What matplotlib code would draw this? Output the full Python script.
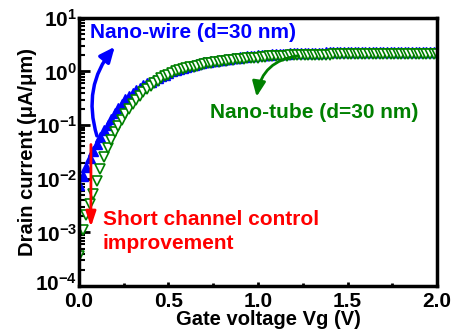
import numpy as np
import matplotlib
matplotlib.use("Agg")
import matplotlib.pyplot as plt
import matplotlib.transforms as mtransforms
from matplotlib.ticker import LogLocator, MultipleLocator, NullFormatter

plt.rcParams['font.family'] = ['Liberation Sans', 'DejaVu Sans']
plt.rcParams['font.weight'] = 'bold'
plt.rcParams['mathtext.fontset'] = 'custom'
plt.rcParams['mathtext.rm'] = 'Liberation Sans:bold'
plt.rcParams['mathtext.bf'] = 'Liberation Sans:bold'
plt.rcParams['mathtext.it'] = 'Liberation Sans:bold'

# gate voltage, 0 -> 2 V, step 0.02 V
vg = np.round(np.arange(0, 101) * 0.02, 2)

# log10 of drain current (uA/um)
wire_log = [
    -2.12, -1.95, -1.78, -1.62, -1.48, -1.35, -1.22, -1.10, -0.99, -0.88,
    -0.78, -0.68, -0.60, -0.52, -0.46, -0.40, -0.35, -0.30, -0.26, -0.22,
    -0.19, -0.16, -0.13, -0.09, -0.06, -0.03, 0.00, 0.03, 0.05, 0.07,
    0.09, 0.11, 0.13, 0.14, 0.16, 0.17, 0.18, 0.19, 0.20, 0.21,
    0.22, 0.23, 0.24, 0.25, 0.26, 0.27, 0.27, 0.28, 0.29, 0.29,
    0.30, 0.30, 0.31, 0.31, 0.32, 0.32, 0.33, 0.33, 0.33, 0.34,
    0.34, 0.34, 0.34, 0.35, 0.35, 0.35, 0.35, 0.35, 0.35, 0.36,
    0.36, 0.36, 0.36, 0.36, 0.36, 0.36, 0.36, 0.36, 0.36, 0.36,
    0.36, 0.36, 0.36, 0.36, 0.36, 0.37, 0.37, 0.37, 0.37, 0.37,
    0.37, 0.37, 0.37, 0.37, 0.37, 0.37, 0.37, 0.37, 0.37, 0.37,
    0.37,
]
tube_log = [
    -3.45, -2.95, -2.68, -2.47, -2.28, -2.05, -1.82, -1.60, -1.42, -1.27,
    -1.13, -1.01, -0.90, -0.80, -0.70, -0.61, -0.53, -0.45, -0.39, -0.33,
    -0.27, -0.22, -0.17, -0.13, -0.09, -0.06, -0.03, 0.00, 0.02, 0.04,
    0.06, 0.08, 0.09, 0.11, 0.12, 0.14, 0.15, 0.16, 0.17, 0.18,
    0.19, 0.20, 0.21, 0.22, 0.23, 0.23, 0.24, 0.25, 0.25, 0.26,
    0.26, 0.27, 0.27, 0.28, 0.28, 0.28, 0.29, 0.29, 0.29, 0.30,
    0.30, 0.30, 0.30, 0.30, 0.31, 0.31, 0.31, 0.31, 0.31, 0.31,
    0.31, 0.32, 0.32, 0.32, 0.32, 0.32, 0.32, 0.32, 0.32, 0.32,
    0.32, 0.32, 0.32, 0.32, 0.32, 0.33, 0.33, 0.33, 0.33, 0.33,
    0.33, 0.33, 0.33, 0.33, 0.33, 0.33, 0.33, 0.33, 0.33, 0.33,
    0.33,
]

wire_i = 10.0 ** np.array(wire_log)
tube_i = 10.0 ** np.array(tube_log)

blue = '#0000ff'
green = '#008000'
red = '#ff0000'

fig = plt.figure(figsize=(4.67, 3.31), dpi=100)
ax = fig.add_axes([0.169, 0.136, 0.767, 0.810])

ax.semilogy(vg, wire_i, '^', color=blue, ms=7.5, mec=blue, mew=1.0, ls='none')
ax.semilogy(vg, tube_i, 'v', color=green, ms=7.5, mfc='white', mec=green, mew=1.2, ls='none')

ax.set_xlim(0, 2.0)
ax.set_ylim(1e-4, 1e1)

# x ticks
ax.xaxis.set_minor_locator(MultipleLocator(0.25))
ax.set_xticks([0, 0.5, 1.0, 1.5, 2.0])
ax.set_xticklabels(['0.0', '0.5', '1.0', '1.5', '2.0'])

# y ticks
ax.yaxis.set_minor_locator(LogLocator(base=10, subs=np.arange(2, 10), numticks=20))
ax.yaxis.set_minor_formatter(NullFormatter())
ax.set_yticks([1e-4, 1e-3, 1e-2, 1e-1, 1e0, 1e1])
ax.set_yticklabels([r'$10^{-4}$', r'$10^{-3}$', r'$10^{-2}$', r'$10^{-1}$', r'$10^{0}$', r'$10^{1}$'])

ax.tick_params(axis='both', which='both', direction='in', top=False, right=False,
               labelsize=15, width=2)
ax.tick_params(axis='y', which='major', length=8, pad=1)
ax.tick_params(axis='y', which='minor', length=4, width=1.5)
ax.tick_params(axis='x', which='major', length=3, pad=4)
ax.tick_params(axis='x', which='minor', length=2)

# lift the lowest y label a little so it clears the "0.0"
lbl = ax.get_yticklabels()[0]
lbl.set_transform(lbl.get_transform() + mtransforms.ScaledTranslation(0, 4 / 100, fig.dpi_scale_trans))

for s in ax.spines.values():
    s.set_linewidth(2.5)

ax.set_xlabel('Gate voltage Vg (V)', fontsize=14.5, fontweight='bold')
ax.set_ylabel('Drain current (\u03bcA/\u03bcm)', fontsize=14.5, fontweight='bold')
ax.xaxis.set_label_coords(0.53, -0.09)
ax.yaxis.set_label_coords(-0.118, 0.5)

# annotations
ax.text(0.062, 10 ** 0.73, 'Nano-wire (d=30 nm)', color=blue, fontsize=15,
        fontweight='bold', va='center', ha='left')
ax.text(0.73, 10 ** -0.77, 'Nano-tube (d=30 nm)', color=green, fontsize=15,
        fontweight='bold', va='center', ha='left')
ax.text(0.134, 10 ** -2.98, 'Short channel control\nimprovement', color=red,
        fontsize=15, fontweight='bold', va='center', ha='left', linespacing=1.3)

ax.annotate('', xy=(0.21, 10 ** 0.5), xytext=(0.105, 10 ** -1.25),
            arrowprops=dict(arrowstyle='-|>,head_length=0.9,head_width=0.4',
                            color=blue, lw=2.5, connectionstyle='arc3,rad=-0.28'))
ax.annotate('', xy=(0.99, 10 ** -0.52), xytext=(1.24, 10 ** 0.3),
            arrowprops=dict(arrowstyle='-|>,head_length=0.9,head_width=0.4',
                            color=green, lw=2.0, connectionstyle='arc3,rad=0.4'))
ax.annotate('', xy=(0.067, 10 ** -2.95), xytext=(0.067, 10 ** -1.31),
            arrowprops=dict(arrowstyle='-|>,head_length=0.9,head_width=0.3',
                            color=red, lw=2.0))

fig.savefig('out.png', dpi=100)
